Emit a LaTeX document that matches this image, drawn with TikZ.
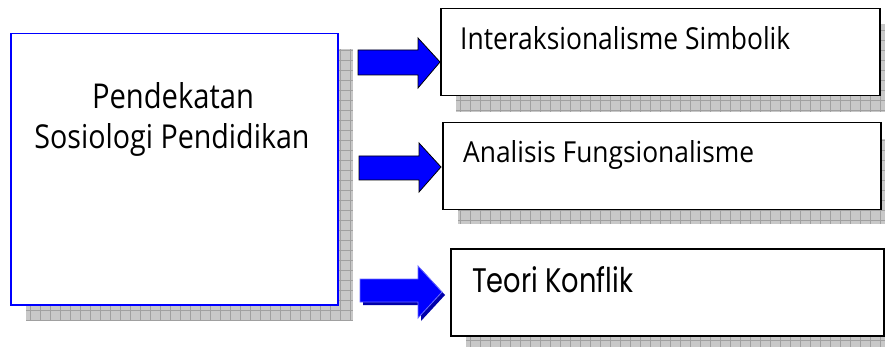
\documentclass[tikz,border=0pt]{standalone}
\usepackage{fontspec}
\setmainfont{Open Sans}
\newfontfamily\geofont{Poppins}
\usepackage{graphicx}
\definecolor{shadowfill}{RGB}{200,200,200}
\definecolor{shadowline}{RGB}{160,160,160}
\definecolor{arrowblue}{RGB}{0,0,255}
\definecolor{arrowdark}{RGB}{0,0,170}
\definecolor{arrowlight}{RGB}{110,110,255}
\tikzset{
  boxnode/.style={draw=black, line width=1.5pt, fill=white, anchor=north west, inner sep=0pt},
  mainbox/.style={draw=arrowblue, line width=1.5pt, fill=white, anchor=north west, inner sep=0pt},
  lbl/.style={anchor=base west, inner sep=0pt},
  blockarrow/.style={draw=black, line width=0.8pt, fill=arrowblue},
}
\newcommand{\gridshadow}[4]{%
  \begin{scope}
    \clip (#1,#2) rectangle (#3,#4);
    \fill[shadowfill] (#1,#2) rectangle (#3,#4);
    \draw[shadowline, line width=0.6pt, step=10pt] (#1,#2) grid (#3,#4);
  \end{scope}}
\begin{document}
\begin{tikzpicture}[x=1pt,y=-1pt]
\useasboundingbox (0,0) rectangle (885,347);
\fill[white] (0,0) rectangle (885,347);
% shadows
\gridshadow{26}{49}{353}{320}
\gridshadow{456}{24}{895}{112}
\gridshadow{458}{139}{896}{224}
\gridshadow{466}{265}{899}{351}
% main box
\node[mainbox, minimum width=327pt, minimum height=271pt] (main) at (10,33) {};
\node[anchor=base, inner sep=0pt] (mainA) at (173,109) {\resizebox{162pt}{26pt}{Pendekatan}};
\node[anchor=base, inner sep=0pt] (mainB) at (172,149) {\resizebox{275pt}{25pt}{Sosiologi Pendidikan}};
% right boxes
\node[boxnode, minimum width=439pt, minimum height=87pt] (b1) at (440,8) {};
\node[boxnode, minimum width=438pt, minimum height=87pt] (b2) at (442,122) {};
\node[boxnode, minimum width=433pt, minimum height=87pt] (b3) at (450,248) {};
\node[lbl] (t1) at (460,50) {\resizebox{330pt}{23pt}{Interaksionalisme Simbolik}};
\node[lbl] (t2) at (463,163) {\resizebox{291pt}{22pt}{Analisis Fungsionalisme}};
\node[lbl] (t3) at (472,292) {\resizebox{161pt}{26pt}{\geofont Teori Konflik}};
% arrows
\draw[blockarrow] (358,50) -- (418,50) -- (418,38) -- (440,62) -- (418,88) -- (418,75) -- (358,75) -- cycle;
\draw[blockarrow] (359,156) -- (419,156) -- (419,143) -- (441,167) -- (419,192) -- (419,180) -- (359,180) -- cycle;
\fill[arrowdark] (363,282) -- (421,282) -- (421,269) -- (445,295) -- (421,321) -- (421,305) -- (363,305) -- cycle;
\draw[draw=arrowlight, line width=0.8pt, fill=arrowblue] (360,279) -- (418,279) -- (418,266) -- (442,292) -- (418,318) -- (418,302) -- (360,302) -- cycle;
\end{tikzpicture}
\end{document}
